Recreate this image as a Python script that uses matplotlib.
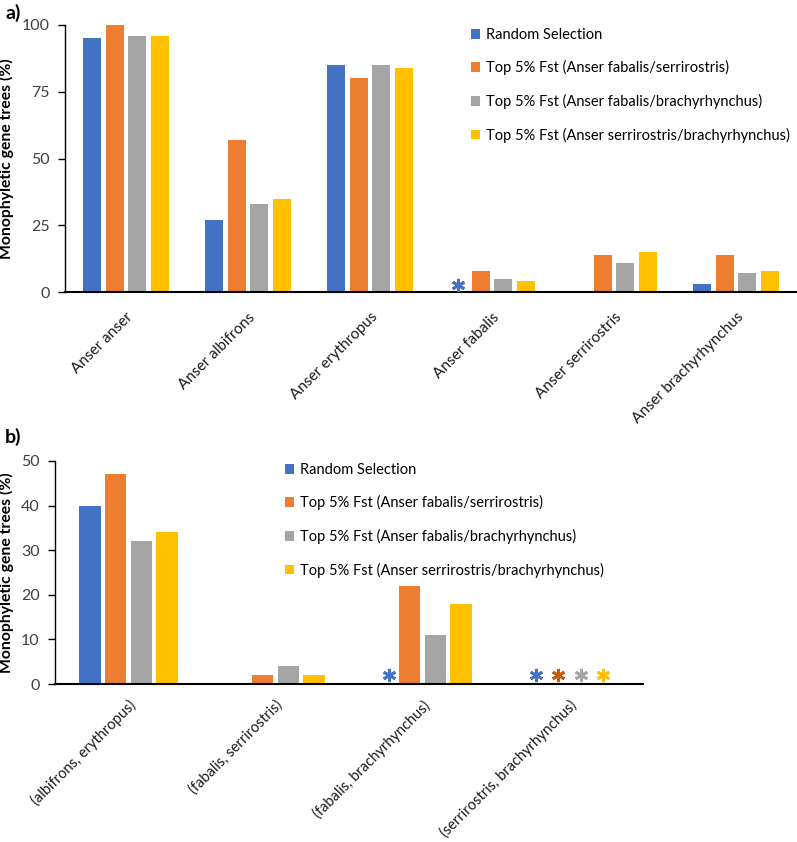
import matplotlib
matplotlib.use("Agg")
import matplotlib.pyplot as plt
from matplotlib.patches import Patch
import matplotlib.transforms as mtrans
import numpy as np

plt.rcParams['font.family'] = ['Lato', 'DejaVu Sans']

series = ["Random Selection",
          "Top 5% Fst (Anser fabalis/serrirostris)",
          "Top 5% Fst (Anser fabalis/brachyrhynchus)",
          "Top 5% Fst (Anser serrirostris/brachyrhynchus)"]
colors = ["#4472C4", "#ED7D31", "#A5A5A5", "#FFC000"]
star_colors = ["#4472C4", "#C55A11", "#A5A5A5", "#FFC000"]

# Panel a
cats_a = ["Anser anser", "Anser albifrons", "Anser erythropus",
          "Anser fabalis", "Anser serrirostris", "Anser brachyrhynchus"]
random_a = [95, 27, 85, 0, 0, 3]
fab_ser_a = [100, 57, 80, 8, 14, 14]
fab_bra_a = [96, 33, 85, 5, 11, 7]
ser_bra_a = [96, 35, 84, 4, 15, 8]
# asterisks: (category index, series index)
stars_a = [(3, 0)]
yticks_a = [0, 25, 50, 75, 100]

# Panel b
cats_b = ["(albifrons, erythropus)", "(fabalis, serrirostris)",
          "(fabalis, brachyrhynchus)", "(serrirostris, brachyrhynchus)"]
random_b = [40, 0.3, 0, 0]
fab_ser_b = [47, 2, 22, 0]
fab_bra_b = [32, 4, 11, 0]
ser_bra_b = [34, 2, 18, 0]
stars_b = [(2, 0), (3, 0), (3, 1), (3, 2), (3, 3)]
yticks_b = [0, 10, 20, 30, 40, 50]

W, H = 797, 842
fig = plt.figure(figsize=(W / 100, H / 100), dpi=100)

def fx(px):
    return px / W

def fy(py):
    return 1 - py / H

bw = 0.147

def draw(ax, cats, vals, stars, yticks, ymax, slot, star_slot, star_y,
         lab_dx, lab_pad, lab_size):
    x = np.arange(len(cats))
    for i, v in enumerate(vals):
        ax.bar(x + (i - 1.5) * slot, v, width=bw, color=colors[i], zorder=2)
    for c, s in stars:
        ax.plot([c + (s - 1.5) * star_slot], [star_y], linestyle='none',
                marker=(6, 2, 0), markersize=9.5, markeredgewidth=2.0,
                color=star_colors[s], clip_on=False, zorder=3)
    ax.set_xlim(-0.5, len(cats) - 0.5)
    ax.set_ylim(0, ymax)
    ax.set_yticks(yticks)
    ax.set_xticks(x)
    ax.set_xticklabels(cats, rotation=45, ha='right', va='top',
                       rotation_mode='anchor', fontsize=lab_size, color='#1a1a1a')
    off = mtrans.ScaledTranslation(lab_dx / 100, 0, fig.dpi_scale_trans)
    for lab in ax.get_xticklabels():
        lab.set_transform(lab.get_transform() + off)
    ax.tick_params(axis='x', length=0, pad=lab_pad)
    ax.tick_params(axis='y', length=5, width=1, labelsize=11.5,
                   labelcolor='#404040', pad=6)
    for sp in ['top', 'right']:
        ax.spines[sp].set_visible(False)
    ax.spines['left'].set_color('black')
    ax.spines['left'].set_linewidth(1.0)
    ax.spines['bottom'].set_color('black')
    ax.spines['bottom'].set_linewidth(1.5)
    ax.set_ylabel("Monophyletic gene trees (%)", fontweight='bold',
                  fontsize=11.3)

# axes a: x 65..797, y 25..292
ax_a = fig.add_axes([fx(65), fy(292), fx(797 - 65), (292 - 25) / H])
draw(ax_a, cats_a, [random_a, fab_ser_a, fab_bra_a, ser_bra_a], stars_a,
     yticks_a, 100, 0.185, 0.185, 2.6, 1, 13, 11)
ax_a.yaxis.set_label_coords(-51 / 732, 0.5)

# axes b: x 55..643, y 461..684
ax_b = fig.add_axes([fx(55), fy(684), fx(643 - 55), (684 - 461) / H])
draw(ax_b, cats_b, [random_b, fab_ser_b, fab_bra_b, ser_bra_b], stars_b,
     yticks_b, 50, 0.175, 0.15, 2.0, 4, 10, 10.5)
ax_b.yaxis.set_label_coords(-41 / 588, 0.5)

handles = [Patch(facecolor=c, edgecolor='none') for c in colors]
fig.legend(handles, series, loc='upper left', bbox_to_anchor=(fx(465), fy(22)),
           frameon=False, fontsize=10.5, handlelength=0.65, handleheight=0.65,
           handletextpad=0.4, labelspacing=1.27, borderaxespad=0)
fig.legend(handles, series, loc='upper left', bbox_to_anchor=(fx(279), fy(457)),
           frameon=False, fontsize=10.5, handlelength=0.65, handleheight=0.65,
           handletextpad=0.4, labelspacing=1.27, borderaxespad=0)

fig.text(fx(5), fy(13), "a)", fontweight='bold', fontsize=14, va='center', ha='left')
fig.text(fx(5), fy(437), "b)", fontweight='bold', fontsize=14, va='center', ha='left')

fig.savefig("out.png", dpi=100, facecolor='white')
